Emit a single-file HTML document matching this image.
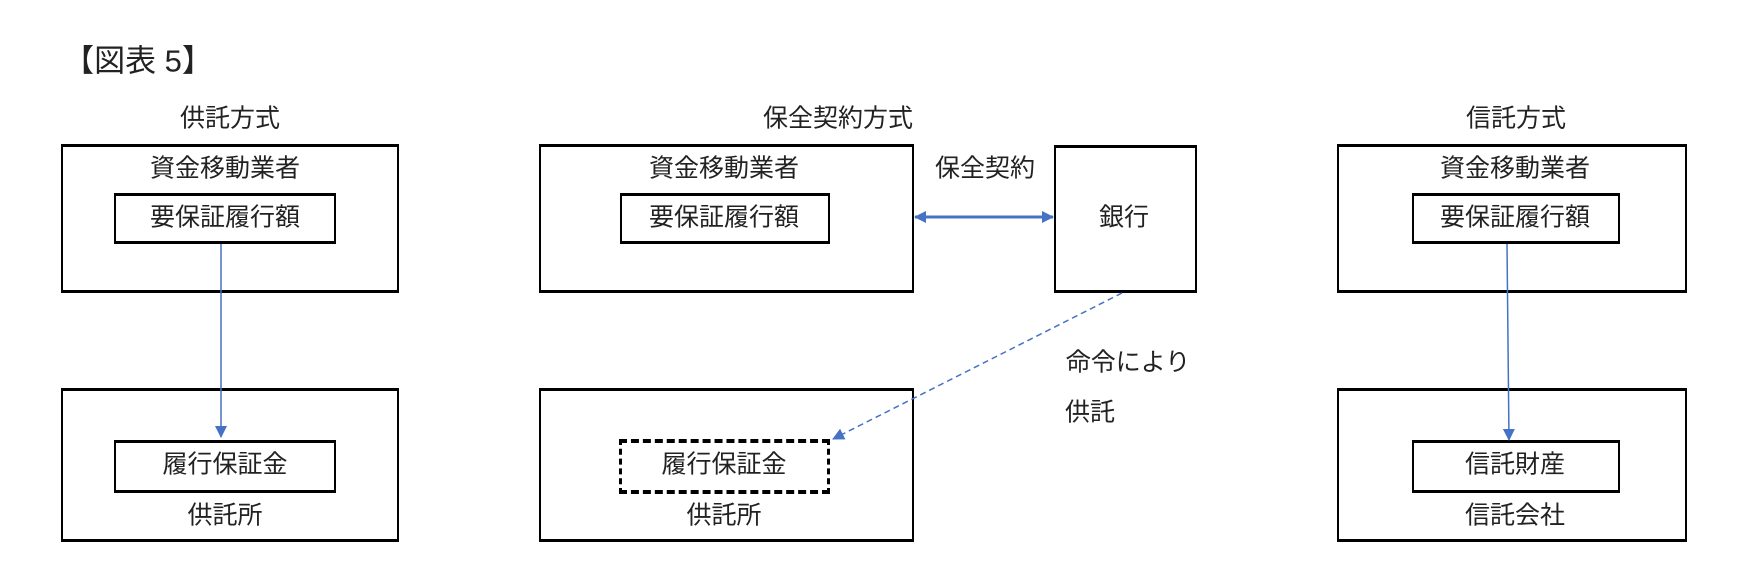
<!DOCTYPE html>
<html><head><meta charset="utf-8"><style>
body{margin:0;width:1742px;height:581px;background:#fff;position:relative;overflow:hidden;font-family:"Liberation Sans","Noto Sans CJK JP",sans-serif;color:#222}
.b{position:absolute;box-sizing:border-box;border:2px solid #000;border-top-width:3px;border-bottom-width:3px}
.t{position:absolute;font-size:25px;white-space:nowrap;transform:translate(-50%,-50%);line-height:1}
</style></head><body>
<div class="t" style="left:138px;top:61px;font-size:31px">【図表 5】</div>
<div class="t" style="left:230px;top:119px">供託方式</div>
<div class="t" style="left:838px;top:119px">保全契約方式</div>
<div class="t" style="left:1516px;top:119px">信託方式</div>

<div class="b" style="left:61px;top:144px;width:338px;height:149px"></div>
<div class="b" style="left:114px;top:193px;width:222px;height:51px"></div>
<div class="t" style="left:225px;top:169px">資金移動業者</div>
<div class="t" style="left:225px;top:218px">要保証履行額</div>

<div class="b" style="left:61px;top:388px;width:338px;height:154px"></div>
<div class="b" style="left:114px;top:440px;width:222px;height:53px"></div>
<div class="t" style="left:225px;top:465px">履行保証金</div>
<div class="t" style="left:225px;top:516px">供託所</div>

<div class="b" style="left:539px;top:144px;width:375px;height:149px"></div>
<div class="b" style="left:620px;top:193px;width:210px;height:51px"></div>
<div class="t" style="left:724px;top:169px">資金移動業者</div>
<div class="t" style="left:724px;top:218px">要保証履行額</div>
<div class="b" style="left:1054px;top:145px;width:143px;height:148px"></div>
<div class="t" style="left:1124px;top:218px">銀行</div>
<div class="t" style="left:985px;top:169px">保全契約</div>

<div class="b" style="left:539px;top:388px;width:375px;height:154px"></div>
<div style="position:absolute;left:619px;top:439px;width:211px;height:55px;box-sizing:border-box;border:4px dashed #000;border-left-width:3px;border-right-width:3px"></div>
<div class="t" style="left:724px;top:465px">履行保証金</div>
<div class="t" style="left:724px;top:516px">供託所</div>
<div class="t" style="left:1128px;top:363px">命令により</div>
<div class="t" style="left:1090px;top:413px">供託</div>

<div class="b" style="left:1337px;top:144px;width:350px;height:149px"></div>
<div class="b" style="left:1412px;top:193px;width:208px;height:51px"></div>
<div class="t" style="left:1515px;top:169px">資金移動業者</div>
<div class="t" style="left:1515px;top:218px">要保証履行額</div>
<div class="b" style="left:1337px;top:388px;width:350px;height:154px"></div>
<div class="b" style="left:1412px;top:440px;width:208px;height:53px"></div>
<div class="t" style="left:1515px;top:465px">信託財産</div>
<div class="t" style="left:1515px;top:516px">信託会社</div>

<svg width="1742" height="581" style="position:absolute;left:0;top:0">
<defs><marker id="a" markerWidth="12" markerHeight="12" refX="11" refY="6" orient="auto" markerUnits="userSpaceOnUse"><path d="M0,0 L12,6 L0,12z" fill="#4472c4"/></marker>
<marker id="s" markerWidth="12" markerHeight="12" refX="1" refY="6" orient="auto" markerUnits="userSpaceOnUse"><path d="M12,0 L0,6 L12,12z" fill="#4472c4"/></marker></defs>
<line x1="221" y1="244" x2="221" y2="437" stroke="#4472c4" stroke-width="1.5" marker-end="url(#a)"/>
<line x1="1507" y1="244" x2="1509" y2="440" stroke="#4472c4" stroke-width="1.5" marker-end="url(#a)"/>
<line x1="915" y1="217" x2="1053" y2="217" stroke="#4472c4" stroke-width="3" marker-start="url(#s)" marker-end="url(#a)"/>
<line x1="1122" y1="293" x2="833" y2="439" stroke="#4472c4" stroke-width="1.5" stroke-dasharray="6,4" marker-end="url(#a)"/>
</svg>
</body></html>
